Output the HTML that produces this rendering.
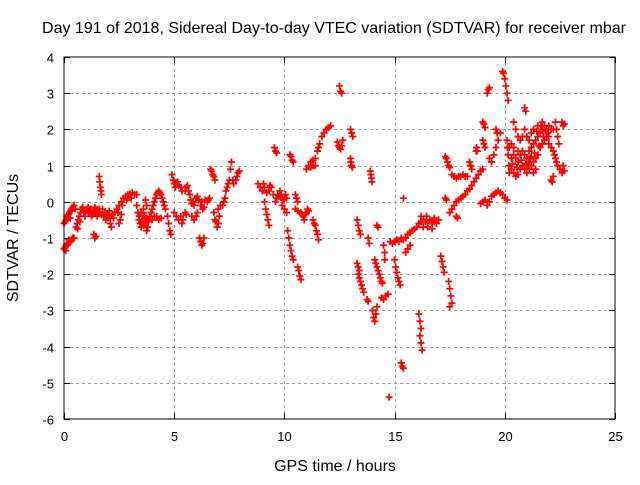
<!DOCTYPE html>
<html><head><meta charset="utf-8"><style>
body{margin:0;background:#fff}
svg text{font-family:"Liberation Sans",sans-serif;font-size:13px;fill:#000}
</style></head><body>
<svg id="chart" width="640" height="480" xmlns="http://www.w3.org/2000/svg">
<text x="334" y="33" text-anchor="middle" style="font-size:16px">Day 191 of 2018, Sidereal Day-to-day VTEC variation (SDTVAR) for receiver mbar</text>
<text x="335" y="471" text-anchor="middle" style="font-size:16px">GPS time / hours</text>
<text transform="translate(18,238) rotate(-90)" text-anchor="middle" style="font-size:16px">SDTVAR / TECUs</text>
<g id="grid"></g><g id="ticks"></g><g id="marks"></g>
<rect x="64" y="57" width="551" height="362" fill="none" stroke="#000" stroke-width="1"/>
</svg>
<script>
const xTicks=[0,5,10,15,20,25];
const yTicks=[4,3,2,1,0,-1,-2,-3,-4,-5,-6];
const sdtvar=[
[0,-1.3],[0.05,-1.25],[0.1,-1.2],[0.15,-1.2],[0.2,-1.15],[0.25,-1.1],[0.3,-1.1],[0.35,-1.05],[0.4,-1.0],[0.45,-1.0],[0.08,-1.35],[0.22,-1.05],
[0,-0.6],[0.05,-0.55],[0.1,-0.5],[0.15,-0.45],[0.2,-0.35],[0.25,-0.3],[0.3,-0.25],[0.35,-0.2],[0.4,-0.15],[0.45,-0.1],[0.5,-0.2],[0.12,-0.4],[0.28,-0.45],
[0.55,-0.7],[0.6,-0.6],[0.65,-0.5],[0.7,-0.4],[0.75,-0.3],[0.8,-0.2],[0.85,-0.15],[0.62,-0.75],[0.72,-0.55],
[0.9,-0.3],[1.0,-0.25],[1.05,-0.2],[1.1,-0.3],[1.15,-0.25],[1.2,-0.2],[1.25,-0.3],[1.3,-0.35],[1.35,-0.25],[1.4,-0.3],[1.45,-0.2],[1.5,-0.25],[1.55,-0.3],[1.6,-0.2],
[0.95,-0.4],[1.1,-0.15],[1.25,-0.4],[1.4,-0.15],[1.5,-0.4],
[1.35,-0.9],[1.4,-1.0],[1.45,-0.95],
[1.6,0.7],[1.62,0.55],[1.65,0.4],[1.68,0.3],[1.7,0.2],
[1.7,-0.35],[1.8,-0.4],[1.9,-0.5],[2.0,-0.45],[2.1,-0.4],[2.2,-0.35],[2.3,-0.3],[2.4,-0.2],[2.5,-0.1],[2.6,0.0],[2.7,0.1],[2.8,0.15],[2.9,0.2],[3.0,0.22],[3.1,0.25],[3.2,0.2],[3.3,0.2],
[1.75,-0.2],[1.85,-0.3],[1.95,-0.35],[2.05,-0.25],[2.25,-0.45],[2.45,-0.3],[2.65,-0.1],[2.85,0.05],[3.05,0.1],
[2.1,-0.6],[2.15,-0.7],[2.5,-0.6],[2.55,-0.5],[2.6,-0.35],
[3.3,-0.1],[3.35,-0.3],[3.4,-0.5],[3.45,-0.6],[3.5,-0.7],[3.55,-0.5],[3.6,-0.3],[3.65,-0.4],[3.7,-0.6],[3.75,-0.8],[3.8,-0.7],[3.85,-0.5],[3.9,-0.4],[3.95,-0.3],
[3.42,-0.4],[3.52,-0.55],[3.62,-0.65],[3.72,-0.45],[3.82,-0.55],
[3.5,-0.3],[3.6,-0.2],[3.7,0.05],[3.75,-0.1],
[4.0,-0.2],[4.05,-0.1],[4.1,0.0],[4.15,0.1],[4.2,0.2],[4.25,0.25],[4.3,0.3],[4.35,0.25],[4.4,0.2],[4.45,0.1],[4.5,0.0],[4.55,-0.1],[4.6,-0.2],
[4.0,-0.5],[4.1,-0.4],[4.2,-0.4],[4.3,-0.5],[4.4,-0.45],
[4.7,-0.4],[4.75,-0.6],[4.8,-0.8],[4.85,-0.9],
[4.9,0.75],[4.95,0.6],[5.0,0.5],[5.05,0.4],[5.1,0.5],[5.15,0.55],[5.2,0.45],[5.3,0.4],[5.35,0.3],
[5.0,-0.3],[5.1,-0.4],[5.2,-0.5],[5.3,-0.4],[5.35,-0.6],[5.4,-0.5],[5.5,-0.3],[5.55,-0.35],
[5.5,0.3],[5.55,0.4],[5.6,0.45],[5.65,0.3],[5.7,0.2],[5.75,0.05],[5.8,-0.05],[5.85,0.0],[5.9,-0.1],
[5.8,-0.4],[5.9,-0.5],[6.0,-0.4],[6.05,-0.3],
[6.0,0.1],[6.05,0.15],[6.1,0.05],[6.2,-0.1],[6.25,0.0],[6.3,-0.2],[6.35,-0.15],
[6.15,-1.0],[6.2,-1.1],[6.25,-1.2],[6.3,-1.15],[6.35,-1.0],
[6.4,0.05],[6.5,0.0],[6.55,0.05],[6.6,0.1],
[6.65,0.9],[6.7,0.85],[6.75,0.75],[6.8,0.7],[6.85,0.6],
[6.8,-0.3],[6.85,-0.5],[6.9,-0.55],[6.95,-0.7],[7.0,-0.6],[7.05,-0.4],[7.0,-0.2],[7.1,-0.1],
[7.2,-0.1],[7.25,0.0],[7.3,0.1],[7.35,0.3],[7.4,0.4],[7.45,0.5],[7.5,0.6],[7.55,0.9],[7.6,1.1],[7.65,0.6],[7.7,0.5],
[7.8,0.6],[7.85,0.7],[7.9,0.8],[7.95,0.85],
[8.8,0.5],[8.9,0.4],[9.0,0.3],[9.05,0.5],[9.1,0.4],[9.2,0.25],[9.3,0.3],[9.35,0.45],[9.4,0.4],
[9.1,0.0],[9.15,-0.2],[9.2,-0.35],[9.25,-0.5],[9.3,-0.65],
[9.55,1.5],[9.6,1.4],[9.65,1.35],
[9.5,0.2],[9.6,0.0],[9.65,0.1],[9.7,0.2],[9.75,0.15],[9.8,0.3],[9.85,0.2],[9.9,0.1],[9.95,0.05],[10.0,0.1],[10.05,0.2],[10.1,0.1],
[9.9,-0.1],[10.0,-0.2],[10.1,-0.3],
[10.15,-0.8],[10.2,-1.0],[10.25,-1.2],[10.3,-1.35],[10.35,-1.5],[10.4,-1.6],
[10.6,-1.8],[10.65,-1.9],[10.7,-2.05],[10.75,-2.15],
[10.25,1.3],[10.3,1.25],[10.35,1.15],[10.4,1.1],
[10.5,0.2],[10.55,0.1],[10.6,0.0],[10.5,-0.2],[10.6,-0.25],
[10.75,-0.3],[10.8,-0.35],[10.85,-0.4],[10.9,-0.5],[10.95,-0.35],[11.0,-0.3],[11.05,-0.2],[11.1,-0.25],
[11.3,-0.5],[11.35,-0.6],[11.4,-0.65],[11.45,-0.8],[11.5,-0.9],[11.55,-1.05],
[11.0,0.9],[11.1,1.0],[11.2,1.1],[11.3,1.15],[11.4,1.2],[11.5,1.4],[11.55,1.5],[11.6,1.6],[11.7,1.8],[11.8,1.9],[11.9,2.0],[12.0,2.05],[12.1,2.1],
[11.2,0.95],[11.3,1.0],[11.4,1.0],
[12.5,3.2],[12.55,3.05],[12.6,3.0],
[12.4,1.65],[12.45,1.55],[12.5,1.5],[12.55,1.45],[12.6,1.55],[12.65,1.7],
[13.0,2.0],[13.05,1.9],[13.1,1.8],
[13.0,1.2],[13.02,1.1],[13.05,1.0],[13.08,0.95],
[13.3,-0.5],[13.35,-0.65],[13.4,-0.8],[13.45,-0.9],
[13.3,-1.7],[13.35,-1.8],[13.4,-1.9],[13.35,-2.0],[13.4,-2.1],[13.45,-2.2],[13.5,-2.3],[13.55,-2.4],[13.6,-2.5],
[13.75,-2.7],[13.8,-2.75],
[13.9,0.85],[13.92,0.75],[13.95,0.65],[13.97,0.55],
[13.8,-1.0],[13.85,-1.15],
[14.0,-3.0],[14.05,-3.2],[14.1,-3.3],[14.15,-3.1],[14.2,-2.9],
[14.2,-0.65],[14.25,-0.7],
[14.1,-1.6],[14.15,-1.7],[14.2,-1.8],[14.25,-1.9],[14.3,-2.0],[14.35,-2.1],[14.4,-2.2],[14.45,-2.25],
[14.4,-2.65],[14.5,-2.7],[14.6,-2.6],[14.7,-2.55],
[14.5,-1.2],[14.55,-1.4],[14.55,-1.6],
[14.75,-5.4],
[14.8,-1.1],[14.9,-1.15],[15.0,-1.1],[15.1,-1.05],[15.2,-1.1],[15.3,-1.0],[15.4,-1.05],[15.5,-1.0],[15.6,-0.9],[15.7,-0.85],[15.8,-0.8],[15.9,-0.75],[16.0,-0.7],[16.1,-0.6],[16.2,-0.55],[16.3,-0.5],[16.4,-0.55],[16.5,-0.6],[16.6,-0.5],[16.7,-0.6],[16.8,-0.55],[16.9,-0.6],[17.0,-0.5],
[16.3,-0.7],[16.5,-0.7],[16.7,-0.75],[16.2,-0.4],[16.45,-0.4],[16.8,-0.45],
[15.0,-1.6],[15.05,-1.8],[15.1,-1.95],[15.15,-2.1],[15.2,-2.2],[15.25,-2.3],
[15.3,-4.45],[15.35,-4.55],[15.4,-4.6],
[15.4,0.1],
[16.1,-3.1],[16.15,-3.3],[16.2,-3.5],[16.15,-3.7],[16.2,-3.9],[16.25,-4.1],
[15.5,-1.4],[15.6,-1.3],[15.7,-1.2],
[17.1,-1.5],[17.15,-1.65],[17.2,-1.8],[17.25,-1.95],
[17.45,-2.2],[17.5,-2.4],[17.55,-2.6],[17.6,-2.8],[17.5,-2.9],
[17.3,1.25],[17.35,1.2],[17.4,1.1],[17.45,1.0],[17.5,0.95],
[17.3,0.1],[17.35,0.05],
[17.6,0.75],[17.7,0.7],[17.8,0.65],[17.9,0.7],[18.0,0.7],[18.1,0.75],[18.2,0.7],[18.3,0.7],
[17.5,-0.3],[17.6,-0.2],[17.7,-0.1],[17.8,0.0],[17.9,0.05],[18.0,0.1],[18.1,0.15],[18.2,0.2],[18.3,0.3],[18.4,0.35],[18.5,0.45],[18.6,0.55],[18.7,0.65],[18.8,0.75],[18.9,0.85],[19.0,0.9],
[17.8,-0.4],[17.85,-0.45],
[18.4,1.1],[18.45,1.0],[18.5,0.9],
[18.7,1.4],[18.72,1.5],[18.75,1.4],
[18.9,-0.05],[19.0,0.0],[19.1,0.05],[19.2,-0.1],[19.3,0.0],[19.4,0.15],[19.5,0.2],[19.6,0.25],[19.7,0.3],[19.8,0.25],[19.9,0.2],[20.0,0.1],[20.1,0.05],
[19.0,2.2],[19.05,2.15],[19.1,2.05],
[19.0,1.7],[19.05,1.6],[19.1,1.5],
[19.2,3.0],[19.25,3.1],[19.3,3.15],
[19.3,1.2],[19.4,1.1],[19.5,1.3],[19.6,1.5],[19.7,1.7],[19.8,1.9],
[19.6,2.0],[19.65,1.9],
[19.9,3.6],[19.95,3.55],[20.0,3.4],[20.05,3.2],[20.1,3.0],[20.15,2.8],
[20.1,1.7],[20.12,1.5],[20.15,1.3],[20.18,1.0],[20.2,0.8],
[20.3,1.2],[20.4,1.3],[20.5,1.2],[20.6,1.1],[20.7,1.3],[20.8,1.4],[20.9,1.3],[21.0,1.2],[21.1,1.4],[21.2,1.5],[21.3,1.6],[21.4,1.7],[21.5,1.8],[21.6,1.9],[21.7,2.0],[21.8,2.1],[21.9,2.0],[22.0,2.1],[22.1,2.0],[22.2,2.0],
[20.3,0.9],[20.4,0.8],[20.5,0.7],[20.6,0.75],[20.7,0.9],[20.8,1.0],[20.9,0.9],[21.0,0.8],[21.1,0.9],[21.2,1.0],[21.3,1.1],[21.4,1.2],[21.5,1.3],[21.6,1.5],[21.7,1.6],[21.8,1.7],[21.9,1.8],[22.0,1.8],
[20.4,2.2],[20.5,2.0],[20.6,1.8],[20.7,1.7],[20.8,1.8],[20.9,2.0],[21.0,1.8],[21.1,1.7],[21.2,1.9],[21.3,2.0],[21.5,2.1],[21.7,2.2],
[20.35,1.05],[20.55,0.95],[20.75,1.15],[20.95,1.05],[21.15,1.2],[21.35,1.35],[21.55,1.55],[21.75,1.8],[21.95,1.9],[21.45,1.95],[21.65,2.1],[21.85,1.95],
[20.2,1.5],[20.3,1.6],[20.4,1.5],[20.6,1.4],
[20.9,2.6],[20.95,2.5],
[21.0,1.0],[21.1,1.1],[21.2,1.25],
[21.3,0.8],[21.4,0.9],
[22.0,1.6],[22.1,1.5],[22.2,1.4],[22.25,1.3],[22.3,1.2],[22.35,1.1],[22.4,1.0],
[22.1,0.6],[22.15,0.55],[22.2,0.7],
[22.3,2.2],[22.35,2.0],[22.4,1.8],[22.45,1.6],
[22.6,2.2],[22.65,2.1],[22.7,2.15],
[22.5,0.9],[22.6,0.8],[22.65,1.0],[22.7,0.85]
];
const NS="http://www.w3.org/2000/svg";
const X0=64,X1=615,Y0=57,Y1=419,xMin=0,xMax=25,yMin=-6,yMax=4;
function xs(t){return X0+(t-xMin)/(xMax-xMin)*(X1-X0);}
function ys(v){return Y1-(v-yMin)/(yMax-yMin)*(Y1-Y0);}
function mk(tag,attrs,parent){const e=document.createElementNS(NS,tag);for(const k in attrs)e.setAttribute(k,attrs[k]);parent.appendChild(e);return e;}
const grid=document.getElementById('grid'),ticks=document.getElementById('ticks'),marks=document.getElementById('marks');
xTicks.forEach(t=>{const x=Math.round(xs(t))+0.5;
 if(t>xMin&&t<xMax){const g=mk('line',{x1:x,x2:x,y1:Y0,y2:Y1,stroke:'#a0a0a0','stroke-dasharray':'3,3'},grid);
 
 }
 mk('line',{x1:x,x2:x,y1:Y1,y2:Y1-6,stroke:'#000'},ticks);mk('line',{x1:x,x2:x,y1:Y0,y2:Y0+6,stroke:'#000'},ticks);
 const l=mk('text',{x:x,y:Y1+22,'text-anchor':'middle'},ticks);l.textContent=t;
 
 });
yTicks.forEach(v=>{const y=Math.round(ys(v))+0.5;
 if(v>yMin&&v<yMax){const g=mk('line',{x1:X0,x2:X1,y1:y,y2:y,stroke:'#a0a0a0','stroke-dasharray':'3,3'},grid);
 
 }
 mk('line',{x1:X0,x2:X0+6,y1:y,y2:y,stroke:'#000'},ticks);mk('line',{x1:X1,x2:X1-6,y1:y,y2:y,stroke:'#000'},ticks);
 const l=mk('text',{x:X0-10,y:y+5,'text-anchor':'end'},ticks);l.textContent=v;
 
 });
sdtvar.forEach(p=>{const x=xs(p[0]),y=ys(p[1]);
 const m=mk('path',{d:`M${x-3.5},${y}h7M${x},${y-3.5}v7`,stroke:'#ff0000','stroke-width':1.7,fill:'none'},marks);
 
 });
</script>
</body></html>
